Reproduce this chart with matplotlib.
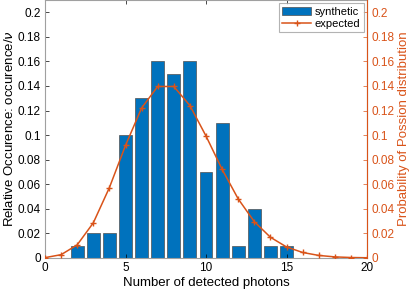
import numpy as np
import matplotlib
matplotlib.use("Agg")
import matplotlib.pyplot as plt

plt.rcParams.update({
    "font.family": "Liberation Sans", "font.size": 8.5,
    "xtick.direction": "in", "ytick.direction": "in",
})
BLUE = "#0072BD"; ORANGE = "#D95319"; EDGE = "#a0a0a0"

photons = [2, 3, 4, 5, 6, 7, 8, 9, 10, 11, 12, 13, 14, 15]
synthetic = [0.01, 0.02, 0.02, 0.10, 0.13, 0.16, 0.15, 0.16, 0.07, 0.11,
             0.01, 0.04, 0.01, 0.01]
k = list(range(21))
expected = [0.0003, 0.0027, 0.0107, 0.0286, 0.0573, 0.0916, 0.1221, 0.1396,
            0.1396, 0.1241, 0.0993, 0.0722, 0.0481, 0.0296, 0.0169, 0.0090,
            0.0045, 0.0021, 0.0009, 0.0004, 0.0002]
yt = [0, 0.02, 0.04, 0.06, 0.08, 0.1, 0.12, 0.14, 0.16, 0.18, 0.2]
ytl = ["0", "0.02", "0.04", "0.06", "0.08", "0.1", "0.12", "0.14", "0.16",
       "0.18", "0.2"]

fig = plt.figure(figsize=(4.15, 2.94), dpi=100)
ax = fig.add_axes([45/415, 1 - 258/294, (367-45)/415, 258/294])
b = ax.bar(photons, synthetic, 0.8, color=BLUE, edgecolor="#505050", lw=0.5,
           label="synthetic")
ax.set_xlim(0, 20); ax.set_ylim(0, 0.21)
ax.set_xticks([0, 5, 10, 15, 20])
ax.set_yticks(yt); ax.set_yticklabels(ytl)
ax.tick_params(top=True, length=3, width=0.5, pad=3)
for s in ax.spines.values():
    s.set_color(EDGE); s.set_linewidth(0.8)
ax.set_xlabel("Number of detected photons", fontsize=9.5, labelpad=2)
ax.set_ylabel(r"Relative Occurence: occurence/$\nu$", fontsize=9.5, labelpad=1)

ax2 = ax.twinx()
ln, = ax2.plot(k, expected, color=ORANGE, lw=1.1, marker="+", ms=4,
               mew=1.0, label="expected")
ax2.set_ylim(0, 0.21)
ax2.set_yticks(yt); ax2.set_yticklabels(ytl)
ax2.tick_params(axis="y", colors=ORANGE, length=3, width=0.5, pad=3)
for s in ax2.spines.values():
    s.set_visible(False)
ax2.spines["right"].set_visible(True)
ax2.spines["right"].set_color(ORANGE)
ax2.set_ylabel("Probability of Possion distribution", color=ORANGE,
               fontsize=9.5, labelpad=3)

leg = ax2.legend([b, ln], ["synthetic", "expected"], loc="upper right",
                 fancybox=False, edgecolor=EDGE, borderaxespad=0.3,
                 handlelength=2.6, borderpad=0.3, labelspacing=0.2,
                 handletextpad=0.3, fontsize=8)
leg.get_frame().set_linewidth(0.8)

fig.savefig("out.png", dpi=100)
